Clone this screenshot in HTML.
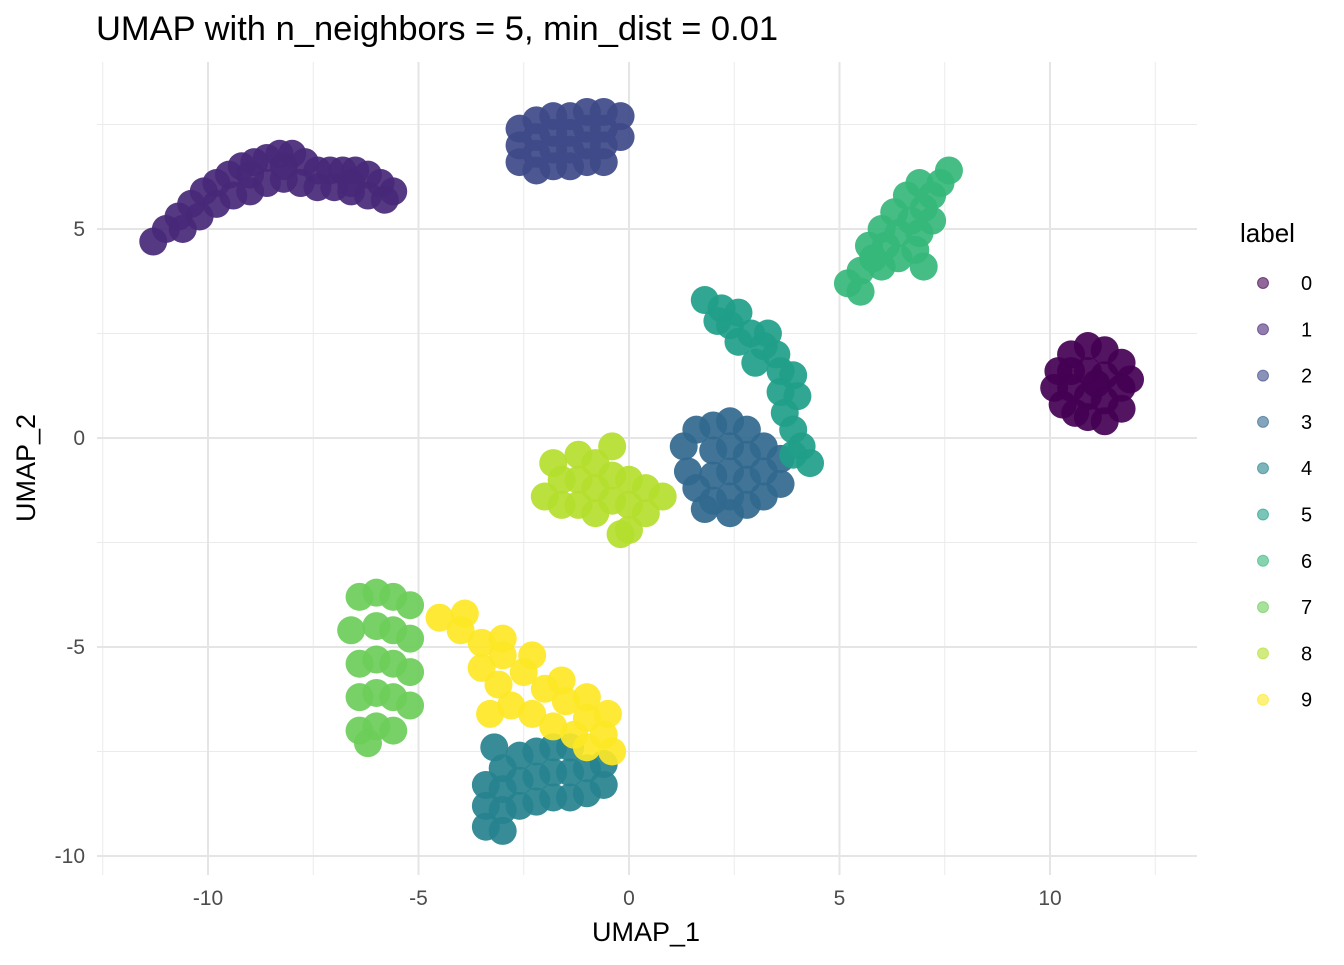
<!DOCTYPE html>
<html><head><meta charset="utf-8"><style>
html,body{margin:0;padding:0;background:#fff;}
svg text{font-family:"Liberation Sans",Arial,sans-serif;}
</style></head><body>
<svg id="chart" width="1344" height="960" viewBox="0 0 1344 960" xmlns="http://www.w3.org/2000/svg">
<rect width="1344" height="960" fill="#fff"/>
<g id="grid"></g>
<g id="points"></g>
<g id="axes"></g>
<text x="96" y="40" font-size="34.5" fill="#000">UMAP with n_neighbors = 5, min_dist = 0.01</text>
<text x="646" y="941" font-size="27" text-anchor="middle" fill="#000">UMAP_1</text>
<text x="0" y="0" font-size="27" text-anchor="middle" fill="#000" transform="translate(35,468) rotate(-90)">UMAP_2</text>
<g id="legend">
<text x="1240" y="242" font-size="26" fill="#000">label</text>
</g>
</svg>
<script>
const xTicks=[-10,-5,0,5,10];
const xMinor=[-12.5,-7.5,-2.5,2.5,7.5,12.5];
const yTicks=[-10,-5,0,5];
const yMinor=[-7.5,-2.5,2.5,7.5];
const labels=["0","1","2","3","4","5","6","7","8","9"];
const colors=["#440154","#482878","#3E4A89","#31688E","#26828E","#1F9E89","#35B779","#6DCD59","#B4DE2C","#FDE725"];
const c0=[[10.1,1.2],[10.2,1.6],[10.3,0.8],[10.5,2.0],[10.5,1.2],[10.6,0.6],[10.9,2.2],[10.9,1.6],[10.9,1.0],[10.9,0.5],[11.3,2.1],[11.3,1.5],[11.3,0.9],[11.3,0.4],[11.7,1.8],[11.7,1.2],[11.7,0.7],[11.9,1.4],[10.5,1.6],[11.1,1.3]];
const c1=[[-11.3,4.7],[-11.0,5.0],[-10.7,5.3],[-10.4,5.6],[-10.1,5.9],[-9.8,6.1],[-9.5,6.3],[-9.2,6.5],[-8.9,6.6],[-8.6,6.7],[-8.3,6.8],[-8.0,6.8],[-7.7,6.6],[-7.4,6.4],[-7.1,6.4],[-6.8,6.4],[-6.5,6.4],[-6.2,6.3],[-5.9,6.1],[-5.6,5.9],[-10.6,5.0],[-10.2,5.3],[-9.8,5.6],[-9.4,5.8],[-9.0,5.9],[-8.6,6.1],[-8.2,6.2],[-7.8,6.1],[-7.4,6.0],[-7.0,6.0],[-6.6,5.9],[-6.2,5.8],[-5.8,5.7],[-9.0,6.3],[-8.2,6.5],[-6.6,6.1]];
const c2=[[-2.6,6.6],[-2.6,7.0],[-2.6,7.4],[-2.2,6.4],[-2.2,6.8],[-2.2,7.2],[-2.2,7.6],[-1.8,6.5],[-1.8,6.9],[-1.8,7.3],[-1.8,7.7],[-1.4,6.5],[-1.4,6.9],[-1.4,7.3],[-1.4,7.7],[-1.0,6.6],[-1.0,7.0],[-1.0,7.4],[-1.0,7.8],[-0.6,6.6],[-0.6,7.0],[-0.6,7.4],[-0.6,7.8],[-0.2,7.2],[-0.2,7.7]];
const c3=[[1.3,-0.2],[1.4,-0.8],[1.6,0.2],[1.6,-1.2],[2.0,0.3],[2.0,-0.3],[2.0,-0.9],[2.0,-1.5],[2.4,0.4],[2.4,-0.2],[2.4,-0.8],[2.4,-1.4],[2.4,-1.8],[2.8,0.2],[2.8,-0.4],[2.8,-1.0],[2.8,-1.6],[3.2,-0.2],[3.2,-0.8],[3.2,-1.4],[3.6,-0.5],[3.6,-1.1],[1.8,-1.7]];
const c4=[[-3.4,-9.3],[-3.4,-8.8],[-3.4,-8.3],[-3.0,-9.4],[-3.0,-8.9],[-3.0,-8.4],[-3.0,-7.9],[-2.6,-8.8],[-2.6,-8.2],[-2.6,-7.6],[-2.2,-8.7],[-2.2,-8.1],[-2.2,-7.5],[-1.8,-8.6],[-1.8,-8.0],[-1.8,-7.4],[-1.4,-8.6],[-1.4,-8.0],[-1.4,-7.4],[-1.0,-8.5],[-1.0,-7.9],[-0.6,-8.3],[-0.6,-7.8],[-3.2,-7.4]];
const c5=[[1.8,3.3],[2.2,3.1],[2.6,3.0],[2.4,2.7],[2.9,2.5],[2.6,2.3],[3.2,2.2],[3.5,2.0],[3.0,1.8],[3.6,1.6],[3.9,1.5],[3.6,1.1],[4.0,1.0],[3.7,0.6],[3.9,0.2],[4.1,-0.2],[4.3,-0.6],[3.9,-0.4],[2.1,2.8],[3.3,2.5]];
const c6=[[5.2,3.7],[5.5,4.0],[5.8,4.3],[6.1,4.6],[6.4,4.9],[6.7,5.2],[7.0,5.5],[7.2,5.8],[7.4,6.1],[7.6,6.4],[6.0,4.1],[6.4,4.3],[6.8,4.5],[6.9,4.9],[7.2,5.2],[5.7,4.6],[6.0,5.0],[6.3,5.4],[6.6,5.8],[6.9,6.1],[5.5,3.5],[7.0,4.1]];
const c7=[[-6.6,-4.6],[-6.4,-3.8],[-6.4,-5.4],[-6.4,-6.2],[-6.4,-7.0],[-6.0,-3.7],[-6.0,-4.5],[-6.0,-5.3],[-6.0,-6.1],[-6.0,-6.9],[-5.6,-3.8],[-5.6,-4.6],[-5.6,-5.4],[-5.6,-6.2],[-5.6,-7.0],[-5.2,-4.0],[-5.2,-4.8],[-5.2,-5.6],[-5.2,-6.4],[-6.2,-7.3]];
const c8=[[-2.0,-1.4],[-1.8,-0.6],[-1.6,-1.0],[-1.6,-1.6],[-1.2,-0.4],[-1.2,-1.0],[-1.2,-1.6],[-0.8,-0.6],[-0.8,-1.2],[-0.8,-1.8],[-0.4,-0.2],[-0.4,-0.9],[-0.4,-1.5],[0.0,-1.0],[0.0,-1.6],[0.0,-2.2],[0.4,-1.2],[0.4,-1.8],[0.8,-1.4],[-0.2,-2.3]];
const c9=[[-4.5,-4.3],[-4.0,-4.6],[-3.5,-4.9],[-3.0,-5.2],[-2.5,-5.6],[-2.0,-6.0],[-1.5,-6.3],[-1.0,-6.7],[-0.6,-7.1],[-0.4,-7.5],[-3.5,-5.5],[-3.1,-5.9],[-2.8,-6.4],[-2.3,-6.6],[-1.8,-6.9],[-1.3,-7.1],[-3.3,-6.6],[-1.0,-7.4],[-3.0,-4.8],[-2.3,-5.2],[-1.6,-5.8],[-1.0,-6.2],[-0.5,-6.6],[-3.9,-4.2]];
const clusters=[c0,c1,c2,c3,c4,c5,c6,c7,c8,c9];

const NS="http://www.w3.org/2000/svg";
const X=v=>629+v*42.1;
const Y=v=>438-v*41.8;
const P={l:97,r:1197,t:62,b:875};
function mk(tag,attrs,parent){const e=document.createElementNS(NS,tag);for(const k in attrs)e.setAttribute(k,attrs[k]);parent.appendChild(e);return e;}
const grid=document.getElementById('grid'),axes=document.getElementById('axes'),pts=document.getElementById('points'),leg=document.getElementById('legend');
xMinor.forEach(v=>{const l=mk('line',{x1:X(v),x2:X(v),y1:P.t,y2:P.b,stroke:'#ebebeb','stroke-width':1},grid);

});
yMinor.forEach(v=>{const l=mk('line',{x1:P.l,x2:P.r,y1:Y(v),y2:Y(v),stroke:'#ebebeb','stroke-width':1},grid);

});
xTicks.forEach(v=>{const l=mk('line',{x1:X(v),x2:X(v),y1:P.t,y2:P.b,stroke:'#e5e5e5','stroke-width':2},grid);


const t=mk('text',{x:X(v),y:905,'font-size':21,'text-anchor':'middle',fill:'#4d4d4d'},axes);t.textContent=v;

});
yTicks.forEach(v=>{const l=mk('line',{x1:P.l,x2:P.r,y1:Y(v),y2:Y(v),stroke:'#e5e5e5','stroke-width':2},grid);


const t=mk('text',{x:85,y:Y(v)+7,'font-size':21,'text-anchor':'end',fill:'#4d4d4d'},axes);t.textContent=v;

});
clusters.forEach((c,i)=>{c.forEach(p=>{const e=mk('circle',{cx:X(p[0]),cy:Y(p[1]),r:14,fill:colors[i],'fill-opacity':0.92},pts);

});});
labels.forEach((s,i)=>{const y=283+46.3*i;
const c=mk('circle',{cx:1263,cy:y,r:5.5,fill:colors[i],'fill-opacity':0.6,stroke:colors[i],'stroke-opacity':0.6},leg);


const t=mk('text',{x:1301,y:y+7,'font-size':20,fill:'#000'},leg);t.textContent=s;

});
</script>
</body></html>
